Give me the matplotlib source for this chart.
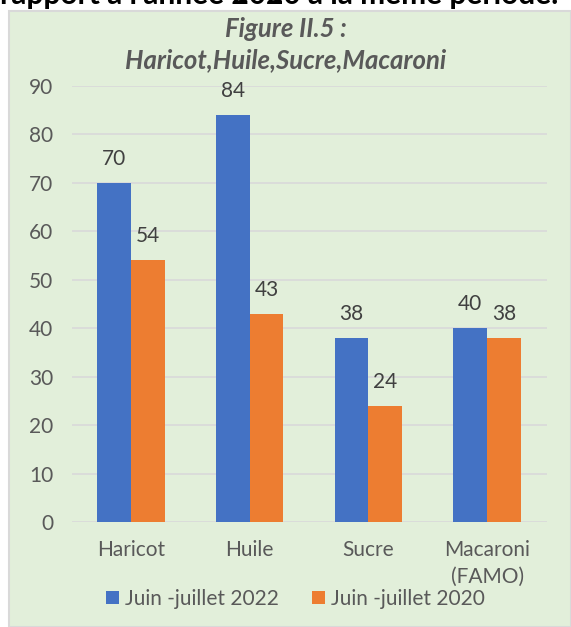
import matplotlib
matplotlib.use("Agg")
import matplotlib.pyplot as plt
from matplotlib.patches import Rectangle
import numpy as np

categories = ["Haricot", "Huile", "Sucre", "Macaroni\n(FAMO)"]
series_names = ["Juin -juillet 2022", "Juin -juillet 2020"]
values_2022 = [70, 84, 38, 40]
values_2020 = [54, 43, 24, 38]
yticks = [0, 10, 20, 30, 40, 50, 60, 70, 80, 90]

plt.rcParams['font.family'] = ['Lato', 'DejaVu Sans']

fig = plt.figure(figsize=(5.71, 6.27), dpi=100)
fig.patch.set_facecolor('white')

# green panel
panel = Rectangle((9/571, 0), 1 - 9/571, 1 - 11/627, transform=fig.transFigure,
                  facecolor='#E2EFDA', edgecolor='#D9D9D9', linewidth=1.5, zorder=-5)
fig.patches.append(panel)

# cropped heading text at top
fig.text(0.0, 1 - 4/627, "rapport à l'année 2020 à la même période.", fontsize=21.5,
         fontweight='bold', color='black', ha='left', va='baseline')

ax = fig.add_axes([71.5/571, 1 - 522/627, 475/571, (522 - 86)/627])
ax.set_facecolor('none')
ax.set_zorder(2)

x = np.arange(len(categories))
w = 0.285
b1 = ax.bar(x - w/2, values_2022, w, color='#4472C4', label=series_names[0], zorder=3)
b2 = ax.bar(x + w/2, values_2020, w, color='#ED7D31', label=series_names[1], zorder=3)

for bars, vals in ((b1, values_2022), (b2, values_2020)):
    for r, v in zip(bars, vals):
        ax.annotate(str(v), (r.get_x() + r.get_width()/2, v), xytext=(0, 17.3),
                    textcoords='offset points', ha='center', va='center',
                    fontsize=15, color='#404040')

ax.set_xlim(-0.5, len(categories) - 0.5)
ax.set_ylim(0, 90)
ax.set_yticks(yticks)
ax.set_yticklabels([str(t) for t in yticks])
ax.set_xticks(x)
ax.set_xticklabels(categories, linespacing=1.45)
ax.tick_params(axis='y', length=0, pad=13.3, labelsize=15, labelcolor='#595959')
ax.tick_params(axis='x', length=0, pad=13, labelsize=15, labelcolor='#595959')
ax.grid(axis='y', color='#D9D9D9', linewidth=1.2, zorder=0)
for s in ax.spines.values():
    s.set_visible(False)

fig.text(0.5, 1 - 37/627, "Figure II.5 :", fontsize=18.5, fontweight='bold', style='italic',
         color='#595959', ha='center', va='baseline')
fig.text(0.5, 1 - 68/627, "Haricot,Huile,Sucre,Macaroni", fontsize=18.5, fontweight='bold',
         style='italic', color='#595959', ha='center', va='baseline')

leg = fig.legend(handles=[b1, b2], labels=series_names, loc='center',
                 bbox_to_anchor=(0.5175, 1 - 599/627), ncol=2, frameon=False,
                 fontsize=15, labelcolor='#595959', handlelength=0.6, handleheight=0.6,
                 handletextpad=0.3, columnspacing=1.6)

fig.savefig("out.png", dpi=100)
